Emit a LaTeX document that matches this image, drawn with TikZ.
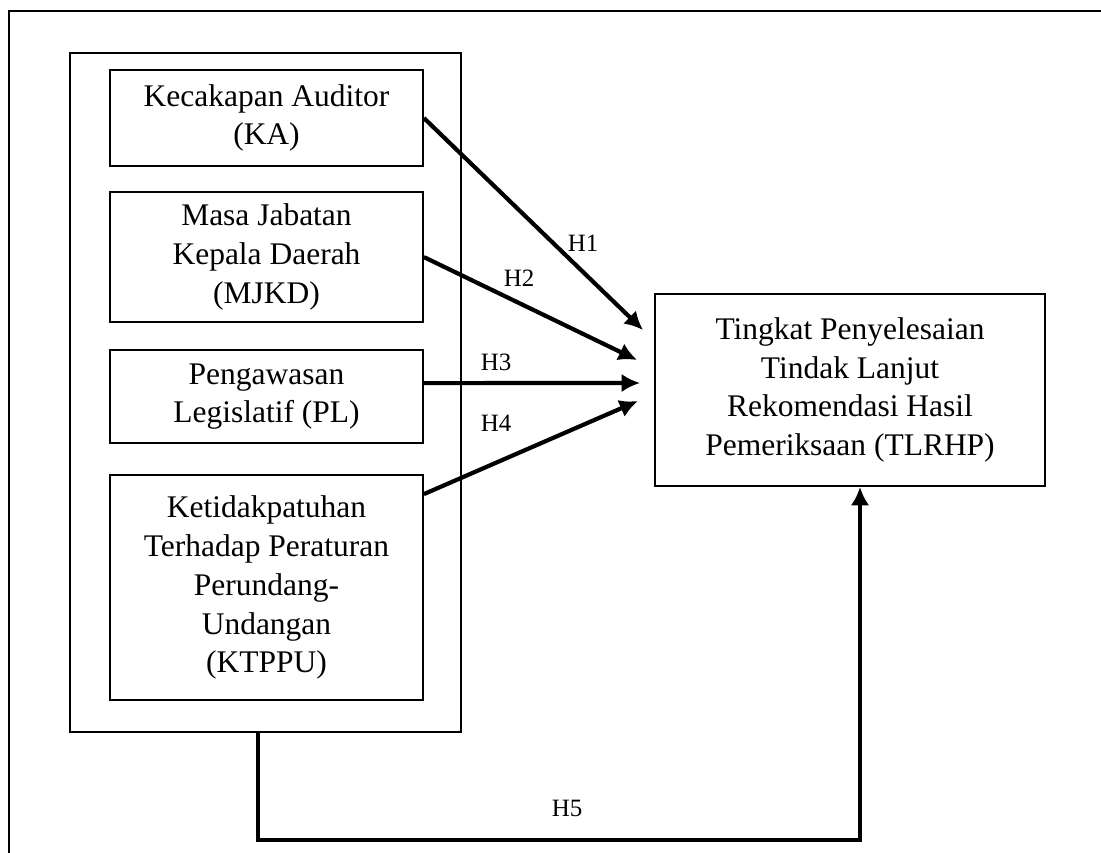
\documentclass[tikz,border=0pt]{standalone}
\usepackage{fontspec}
\setmainfont{Liberation Serif}
\usepackage{tikz}
\usetikzlibrary{arrows.meta,shapes,positioning}
\tikzstyle{block} = [rectangle, draw, line width=0.75pt, align=center,
    minimum width=4.19cm, inner sep=2pt, font=\fontsize{12}{14.8}\selectfont]
\tikzstyle{line} = [draw, -{Latex[length=7pt,width=7pt]}, line width=1.6pt]
\tikzstyle{hlabel} = [font=\fontsize{9.5}{11}\selectfont]

\begin{document}
\begin{tikzpicture}[x=0.0134cm, y=-0.0134cm]
    \useasboundingbox (0,0) rectangle (1101,853);
    \clip (0,0) rectangle (1101,853);
    % Çerçeve
    \draw [line width=1.1pt] (9,11) rectangle (1130,890);
    % Düğümleri yerleştir
    \node [draw, line width=0.8pt, minimum width=5.24cm, minimum height=9.1cm] (group) at (265.5,392.5) {};
    \node [block, minimum height=1.29cm] (ka) at (266.5,118) {Kecakapan Auditor\\(KA)};
    \node [block, below of=ka, node distance=1.863cm, minimum height=1.74cm] (mjkd) {Masa Jabatan\\Kepala Daerah\\(MJKD)};
    \node [block, below of=mjkd, node distance=1.869cm, minimum height=1.25cm] (pl) {Pengawasan\\Legislatif (PL)};
    \node [block, below of=pl, node distance=2.56cm, minimum height=3.02cm] (ktppu) {Ketidakpatuhan\\Terhadap Peraturan\\Perundang-\\Undangan\\(KTPPU)};
    \node [block, minimum width=5.23cm, minimum height=2.57cm] (tlrhp) at (850,390) {Tingkat Penyelesaian\\Tindak Lanjut\\Rekomendasi Hasil\\Pemeriksaan (TLRHP)};
    \coordinate (t1) at (643,330);
    \coordinate (t2) at (637,360);
    \coordinate (t3) at (640,383);
    \coordinate (t4) at (638,401);
    \coordinate (h5a) at (258,840);
    \coordinate (h5b) at (860,840);
    % Kenarları çiz
    \path [line] (ka.east) -- (t1);
    \path [line] (mjkd.east) -- (t2);
    \path [line] ([yshift=0.18cm]pl.east) -- (t3);
    \path [line] ([yshift=-0.27cm]ktppu.north east) -- (t4);
    \path [line] (group.south -| h5a) -- (h5a) -- (h5b) -- (tlrhp.south -| h5b);
    % Etiketler
    \node [hlabel] (h1) at (583,243) {H1};
    \node [hlabel] (h2) at (519,278) {H2};
    \node [hlabel] (h3) at (496,362) {H3};
    \node [hlabel] (h4) at (496,423) {H4};
    \node [hlabel] (h5) at (567,808) {H5};
\end{tikzpicture}
\end{document}
